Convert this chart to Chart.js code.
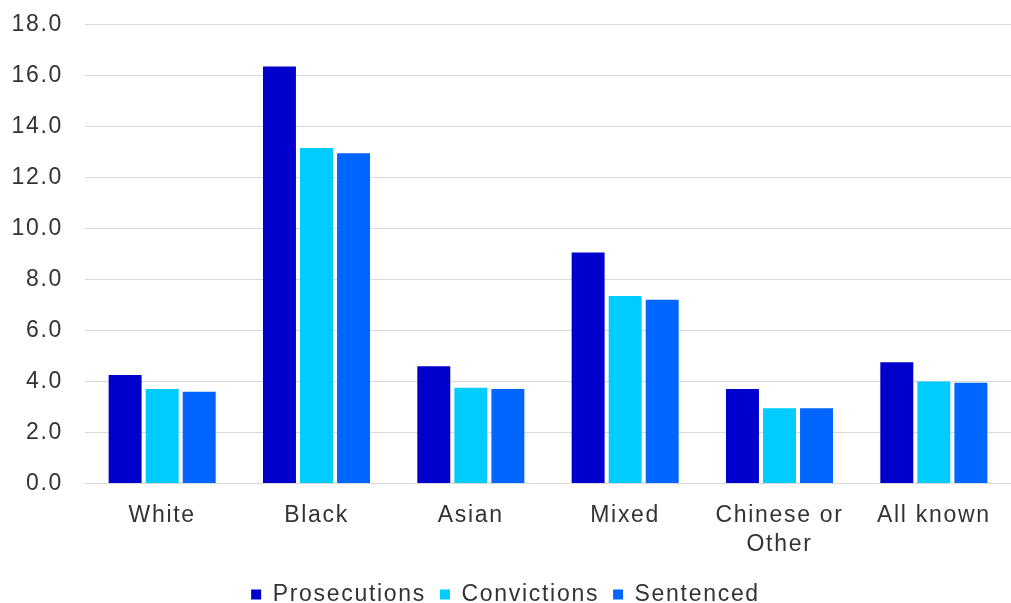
<!DOCTYPE html>
<html>
<head>
  <title>Rates by ethnicity</title>
  <script src="https://cdn.jsdelivr.net/npm/chart.js"></script>
  <style>
    html, body { margin: 0; padding: 0; overflow: hidden; background: #fff; }
    #wrap { width: 1011px; height: 616px; position: relative; }
  </style>
</head>
<body>
  <div id="wrap">
    <canvas id="rateChart"></canvas>
  </div>

  <script>
    // categories and values
    const groups = ['White', 'Black', 'Asian', 'Mixed', ['Chinese or', 'Other'], 'All known'];
    const prosecutions = [4.25, 16.35, 4.6, 9.05, 3.7, 4.75];
    const convictions = [3.7, 13.15, 3.75, 7.35, 2.95, 4.0];
    const sentenced = [3.6, 12.95, 3.7, 7.2, 2.95, 3.95];
    const yTicks = [0, 2, 4, 6, 8, 10, 12, 14, 16, 18];

    const textFont = { family: '"Liberation Sans", Arial, sans-serif', size: 23 };

    // wider letter spacing, the reference text is a bit stretched
    const spacing = {
      id: 'spacing',
      beforeUpdate(chart) { chart.ctx.letterSpacing = '1.7px'; },
      beforeDraw(chart) { chart.ctx.letterSpacing = '1.7px'; }
    };

    const ctx = document.getElementById('rateChart').getContext('2d');
    new Chart(ctx, {
      type: 'bar',
      data: {
        labels: groups,
        datasets: [
          { label: 'Prosecutions', data: prosecutions, backgroundColor: '#0000CC' },
          { label: 'Convictions', data: convictions, backgroundColor: '#00CCFF' },
          { label: 'Sentenced', data: sentenced, backgroundColor: '#0066FF' }
        ]
      },
      options: {
        responsive: true,
        maintainAspectRatio: false,
        animation: false,
        categoryPercentage: 0.72,
        barPercentage: 0.89,
        layout: { padding: 0 },
        plugins: {
          tooltip: { enabled: false },
          legend: {
            position: 'bottom',
            labels: {
              boxWidth: 10,
              boxHeight: 10,
              padding: 14,
              color: '#333',
              font: textFont
            }
          }
        },
        scales: {
          x: {
            grid: { display: false },
            border: { display: true, color: '#d9d9d9' },
            ticks: { color: '#333', font: { ...textFont, lineHeight: 1.25 }, padding: 10, maxRotation: 0, autoSkip: false }
          },
          y: {
            min: 0,
            max: 18,
            afterBuildTicks(axis) { axis.ticks = yTicks.map(v => ({ value: v })); },
            afterFit(axis) { axis.width = 85; },
            grid: { color: '#d9d9d9', drawTicks: false },
            border: { display: false },
            ticks: {
              color: '#333',
              // small lineHeight keeps the top padding tight
              font: { ...textFont, lineHeight: 0.2 },
              padding: 22,
              callback: v => v.toFixed(1)
            }
          }
        }
      },
      plugins: [spacing]
    });
  </script>
</body>
</html>
